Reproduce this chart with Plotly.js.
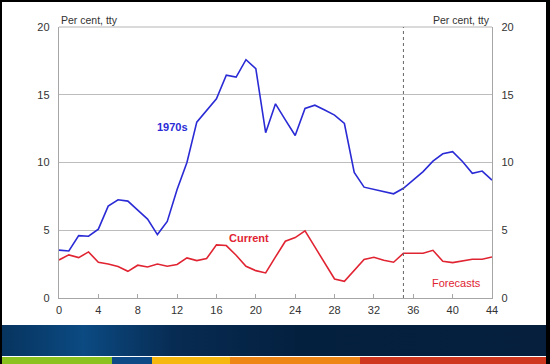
<!DOCTYPE html>
<html>
<head>
<meta charset="utf-8">
<script src="https://cdn.plot.ly/plotly-3.0.1.min.js"></script>
<style>html,body{margin:0;padding:0;background:#fff;}#chart{width:550px;height:364px;}</style>
</head>
<body>
<div id="chart"></div>
<script>
// ---- data ----
const quarters = Array.from({length: 45}, (_, i) => i);
const seventies = [3.53, 3.47, 4.6, 4.56, 5.08, 6.78, 7.25, 7.15, 6.48, 5.82, 4.68, 5.65, 8.0, 10.0,
  12.98, 13.8, 14.7, 16.45, 16.3, 17.59, 16.92, 12.2, 14.33, 13.15, 11.99, 13.99, 14.23, 13.87, 13.5, 12.88,
  9.26, 8.18, 8.0, 7.84, 7.69, 8.1, 8.7, 9.33, 10.1, 10.64, 10.8, 10.08, 9.2, 9.37, 8.7];
const current = [2.81, 3.18, 2.98, 3.4, 2.64, 2.51, 2.32, 1.97, 2.42, 2.29, 2.51, 2.34, 2.47, 2.96,
  2.76, 2.91, 3.92, 3.87, 3.16, 2.34, 2.02, 1.85, 3.03, 4.19, 4.46, 4.95, 3.77, 2.58, 1.4, 1.23,
  2.05, 2.84, 3.01, 2.79, 2.64, 3.3, 3.3, 3.3, 3.52, 2.71, 2.61, 2.71, 2.86, 2.86, 3.03];
const xTicks = [0, 4, 8, 12, 16, 20, 24, 28, 32, 36, 40, 44];
const yTicks = [0, 5, 10, 15, 20];
const forecastStart = 35;
const seriesNames = ['1970s', 'Current'];
const axisTitle = 'Per cent, tty';

// ---- layout helpers (pixel -> paper) ----
const L = 59, R = 492, T = 27, B = 298;
const px = x => (x - L) / (R - L);
const py = y => (B - y) / (B - T);
const FONT = 'Liberation Sans, Arial, sans-serif';
const BLUE = '#2b2bd6', RED = '#e02432';

const traces = [
  {x: quarters, y: seventies, type: 'scatter', mode: 'lines', name: seriesNames[0],
   line: {color: BLUE, width: 1.6}, hoverinfo: 'skip'},
  {x: quarters, y: current, type: 'scatter', mode: 'lines', name: seriesNames[1],
   line: {color: RED, width: 1.6}, hoverinfo: 'skip'},
  {x: [0, 44], y: [0, 20], yaxis: 'y2', type: 'scatter', mode: 'markers',
   marker: {opacity: 0}, showlegend: false, hoverinfo: 'skip'}
];

function rectPx(x0, y0, x1, y1, color) {
  return {type: 'rect', xref: 'paper', yref: 'paper', x0: px(x0), x1: px(x1), y0: py(y0), y1: py(y1),
    fillcolor: color, line: {width: 0}, layer: 'above'};
}

const shapes = [
  {type: 'line', xref: 'paper', yref: 'paper', x0: 0, x1: 1, y0: 1, y1: 1,
   line: {color: '#b5b5b5', width: 1.2}, layer: 'below'},
  {type: 'line', xref: 'x', yref: 'y', x0: forecastStart, x1: forecastStart, y0: 0, y1: 20,
   line: {color: '#666', width: 1, dash: 'dot'}, layer: 'above'},
  // bottom band stripes
  rectPx(2, 357, 112, 364, '#8cc21f'),
  rectPx(112, 357, 152, 364, '#0d4a86'),
  rectPx(152, 357, 230, 364, '#f6b80f'),
  rectPx(230, 357, 360, 364, '#ee8616'),
  rectPx(360, 357, 547, 364, '#d0371f'),
  // black frame
  rectPx(0, 0, 550, 2, '#000'),
  rectPx(0, 0, 2, 364, '#000'),
  rectPx(546, 0, 550, 364, '#000')
];

const gradSvg = '<svg xmlns="http://www.w3.org/2000/svg" width="544" height="31" preserveAspectRatio="none">' +
  '<defs><linearGradient id="g" x1="0" x2="1" y1="0" y2="0">' +
  '<stop offset="0" stop-color="#07345f"/><stop offset="0.15" stop-color="#0b4a82"/>' +
  '<stop offset="0.32" stop-color="#072b52"/><stop offset="0.55" stop-color="#04203f"/>' +
  '<stop offset="1" stop-color="#051f3d"/></linearGradient></defs>' +
  '<rect width="544" height="31" fill="url(#g)"/></svg>';

const layout = {
  width: 550, height: 364,
  margin: {l: L, r: 550 - R, t: T, b: 364 - B, pad: 0},
  paper_bgcolor: '#fff', plot_bgcolor: '#fff',
  showlegend: false,
  font: {family: FONT, size: 11, color: '#333'},
  xaxis: {range: [0, 44], tickvals: xTicks, ticktext: xTicks.map(String),
    showgrid: false, zeroline: false, showline: true, linecolor: '#a6a6a6', linewidth: 1.2,
    ticks: 'inside', ticklen: 4, tickcolor: '#a6a6a6', tickfont: {family: FONT, size: 11, color: '#333'},
    ticklabelstandoff: 2, fixedrange: true},
  yaxis: {range: [0, 20], tickvals: yTicks, ticktext: yTicks.map(String),
    showgrid: true, gridcolor: '#bdbdbd', gridwidth: 1.2, zeroline: false,
    showline: true, linecolor: '#a6a6a6', linewidth: 1.2, ticks: '',
    tickfont: {family: FONT, size: 11, color: '#333'}, ticklabelstandoff: 6, fixedrange: true},
  yaxis2: {range: [0, 20], tickvals: yTicks, ticktext: yTicks.map(String), overlaying: 'y', side: 'right',
    showgrid: false, zeroline: false, showline: true, linecolor: '#a6a6a6', linewidth: 1.2, ticks: '',
    tickfont: {family: FONT, size: 11, color: '#333'}, ticklabelstandoff: 6, fixedrange: true},
  shapes: shapes,
  images: [{source: 'data:image/svg+xml;charset=utf-8,' + encodeURIComponent(gradSvg),
    xref: 'paper', yref: 'paper', x: px(2), y: py(325), sizex: 544 / (R - L), sizey: 31 / (B - T),
    sizing: 'stretch', xanchor: 'left', yanchor: 'top', layer: 'above'}],
  annotations: [
    {xref: 'paper', yref: 'paper', x: 0, y: 1, xanchor: 'left', yanchor: 'bottom', yshift: -1,
     text: axisTitle, showarrow: false, font: {family: FONT, size: 10.5, color: '#333'}},
    {xref: 'paper', yref: 'paper', x: 1, y: 1, xanchor: 'right', yanchor: 'bottom', yshift: -1,
     text: axisTitle, showarrow: false, font: {family: FONT, size: 10.5, color: '#333'}},
    {xref: 'x', yref: 'y', x: 13.3, y: 12.6, xanchor: 'right', yanchor: 'middle',
     text: '<b>' + seriesNames[0] + '</b>', showarrow: false, font: {family: FONT, size: 11, color: BLUE}},
    {xref: 'x', yref: 'y', x: 19.3, y: 4.4, xanchor: 'center', yanchor: 'middle',
     text: '<b>' + seriesNames[1] + '</b>', showarrow: false, font: {family: FONT, size: 11, color: RED}},
    {xref: 'x', yref: 'y', x: 40.4, y: 1.13, xanchor: 'center', yanchor: 'middle',
     text: 'Forecasts', showarrow: false, font: {family: FONT, size: 11, color: RED}}
  ]
};

Plotly.newPlot('chart', traces, layout, {staticPlot: true, displayModeBar: false});
</script>
</body>
</html>
